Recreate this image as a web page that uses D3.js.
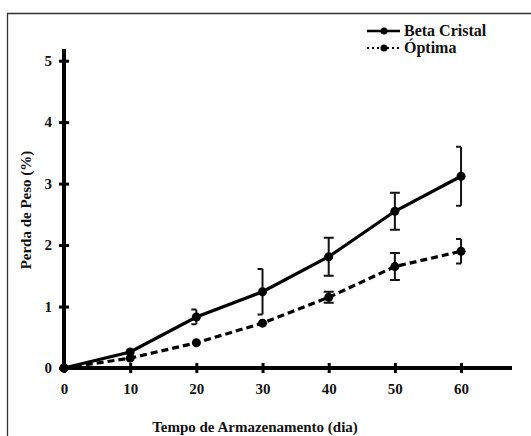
<!DOCTYPE html>
<html><head><meta charset="utf-8">
<script src="https://cdn.jsdelivr.net/npm/d3@7"></script>
<style>body{margin:0;background:#fff}svg{display:block}</style>
</head><body><svg id="c" width="531" height="436"></svg>
<script>
const days = [0, 10, 20, 30, 40, 50, 60];
const betaCristal = [0.0, 0.26, 0.83, 1.24, 1.81, 2.55, 3.12];
const betaErr = [0, 0.02, 0.12, 0.37, 0.31, 0.30, 0.48];
const optima = [0.0, 0.16, 0.41, 0.73, 1.15, 1.65, 1.90];
const optimaErr = [0, 0.01, 0.02, 0.02, 0.09, 0.22, 0.20];
const xTicks = [0, 10, 20, 30, 40, 50, 60];
const yTicks = [0, 1, 2, 3, 4, 5];
const seriesNames = ["Beta Cristal", "Óptima"];
const FONT = "'Liberation Serif', 'Times New Roman', serif";

const svg = d3.select("#c");
svg.append("path").attr("d","M7.5,436 V13.5 H531").attr("fill","none").attr("stroke","#333").attr("stroke-width",1.3);

const x = d3.scaleLinear().domain([0, 67.7]).range([64, 512]);
const y = d3.scaleLinear().domain([0, 5.19]).range([368, 49]);

svg.append("line").attr("x1",x(0)).attr("x2",x(67.7)).attr("y1",y(0)).attr("y2",y(0)).attr("stroke","#000").attr("stroke-width",4);
svg.append("line").attr("x1",x(0)).attr("x2",x(0)).attr("y1",y(0)+2).attr("y2",y(5.19)).attr("stroke","#000").attr("stroke-width",4);

const xa = svg.append("g").attr("transform",`translate(0,${y(0)})`)
  .call(d3.axisBottom(x).tickValues(xTicks).tickSize(5).tickPadding(10).tickFormat(d3.format("d")));
xa.select(".domain").remove();
xa.attr("font-family", FONT).attr("font-size", 15).attr("font-weight","bold");
xa.selectAll(".tick line").attr("y1",-5).attr("stroke-width",3).attr("stroke","#000");
xa.selectAll("text").attr("fill","#111");

const ya = svg.append("g").attr("transform",`translate(${x(0)},0)`)
  .call(d3.axisLeft(y).tickValues(yTicks).tickSize(5).tickPadding(7).tickFormat(d3.format("d")));
ya.select(".domain").remove();
ya.attr("font-family", FONT).attr("font-size", 15).attr("font-weight","bold");
ya.selectAll(".tick line").attr("x1",5).attr("x2",-5).attr("stroke-width",3).attr("stroke","#000");
ya.selectAll("text").attr("fill","#111");

svg.append("text").attr("x",255).attr("y",432).attr("text-anchor","middle")
  .attr("font-family",FONT).attr("font-weight","bold").attr("font-size",15).attr("fill","#111").text("Tempo de Armazenamento (dia)");
svg.append("text").attr("transform","translate(31,210) rotate(-90)").attr("text-anchor","middle")
  .attr("font-family",FONT).attr("font-weight","bold").attr("font-size",15).attr("fill","#111").text("Perda de Peso (%)");

const line = d3.line().x(d=>x(d[0])).y(d=>y(d[1]));
const series = [
  {vals: betaCristal, err: betaErr, dash: null},
  {vals: optima, err: optimaErr, dash: "7,4"}
];
series.forEach((s) => {
  const pts = days.map((d,i)=>[d, s.vals[i]]);
  svg.append("path").datum(pts).attr("d",line).attr("fill","none").attr("stroke","#000")
    .attr("stroke-width",3.2).attr("stroke-dasharray",s.dash);
  days.forEach((d,i)=>{
    const e = s.err[i];
    if (e < 0.05) return;
    const cx = x(d), t = y(s.vals[i]+e), b = y(s.vals[i]-e);
    const full = (d===40 || d===50);
    const l = cx-5, r = full ? cx+5 : cx;
    svg.append("path").attr("d",`M${l},${t} H${r} M${cx},${t} V${b} M${l},${b} H${r}`)
      .attr("fill","none").attr("stroke","#111").attr("stroke-width",2);
  });
  svg.append("g").selectAll("circle").data(pts).join("circle")
    .attr("cx",d=>x(d[0])).attr("cy",d=>y(d[1])).attr("r",4.5).attr("fill","#000");
});

const lg = svg.append("g");
[0,1].forEach(i=>{
  const ly = 31 + i*17;
  lg.append("line").attr("x1",367).attr("x2",400).attr("y1",ly).attr("y2",ly).attr("stroke","#000")
    .attr("stroke-width", i===0 ? 2.5 : 2).attr("stroke-dasharray", i===0 ? null : "2,3");
  lg.append("circle").attr("cx",384).attr("cy",ly).attr("r",3.5).attr("fill","#000");
  lg.append("text").attr("x",404).attr("y",ly+5).attr("font-family",FONT).attr("font-weight","bold")
    .attr("font-size",16).attr("fill","#111").text(seriesNames[i]);
});
</script></body></html>
